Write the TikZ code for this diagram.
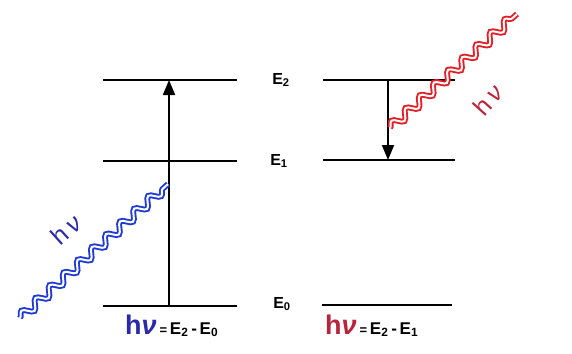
\documentclass[tikz,border=0pt]{standalone}
\usepackage{fontspec}
\setmainfont{Liberation Sans}
\usetikzlibrary{positioning,arrows.meta,decorations.pathmorphing}

\definecolor{photonblue}{HTML}{1F3AD4}
\definecolor{photonred}{HTML}{E41E26}
\definecolor{textblue}{HTML}{2A2AA8}
\definecolor{textred}{HTML}{B8243A}

\begin{document}
\begin{tikzpicture}[
  x=1pt,y=-1pt,
  level/.style={black,line width=1.5pt},
  trans/.style={-{Triangle[length=15pt,width=12pt]},line width=1.8pt},
  photon/.style={decorate,decoration={snake,segment length=19pt,amplitude=4.5pt},
                 line width=1.9pt,double distance=2pt},
  elbl/.style={font=\fontsize{16}{16}\selectfont\bfseries,inner sep=0pt},
  hvlbl/.style={font=\fontsize{25}{25}\selectfont,inner sep=0pt},
  eqn/.style={font=\fontsize{17}{17}\selectfont\bfseries,anchor=base west,inner sep=0pt},
]
\useasboundingbox (0,0) rectangle (572,353);

% ===== energy levels =====
\draw[level] (103,80) -- (237,80);
\draw[level] (103,161) -- (237,161);
\draw[level] (103,306) -- (237,306);
\draw[level] (323,80) -- (455,80);
\draw[level] (323,160) -- (455,160);
\draw[level] (322,305) -- (452,305);

\node[elbl] (e2) at (281,80) {E\textsubscript{2}};
\node[elbl] (e1) at (279,161) {E\textsubscript{1}};
\node[elbl] (e0) at (282,304) {E\textsubscript{0}};

% ===== absorption (left) =====
\coordinate (absLow) at (169,306);
\coordinate (absHigh) at (169,80);
\draw[trans] (absLow) -- (absHigh);
\coordinate (inStart) at (20,318);
\coordinate (inEnd) at (168,184);
\draw[photon,draw=photonblue,double=white] (inStart) -- (inEnd);
\node[hvlbl,textblue,rotate=42] (hvIn) at (66,230) {h\,\textit{ν}};

% ===== emission (right) =====
\coordinate (emHigh) at (388,80);
\coordinate (emLow) at (388,160);
\draw[trans] (emHigh) -- (emLow);
\coordinate (outStart) at (390,128);
\coordinate (outEnd) at (517,14);
\draw[photon,draw=photonred,double=white] (outStart) -- (outEnd);
\node[hvlbl,textred,rotate=48] (hvOut) at (488,100) {h\,\textit{ν}};

% ===== energy balance =====
\node[eqn] (eqAbs) at (125,334)
  {\textcolor{textblue}{\fontsize{27}{27}\selectfont h\textit{ν}}\,{\fontsize{13}{13}\selectfont=}\,E\textsubscript{2}\,-\,E\textsubscript{0}};
\node[eqn] (eqEm) at (325,334)
  {\textcolor{textred}{\fontsize{27}{27}\selectfont h\textit{ν}}\,{\fontsize{13}{13}\selectfont=}\,E\textsubscript{2}\,-\,E\textsubscript{1}};
\end{tikzpicture}
\end{document}
